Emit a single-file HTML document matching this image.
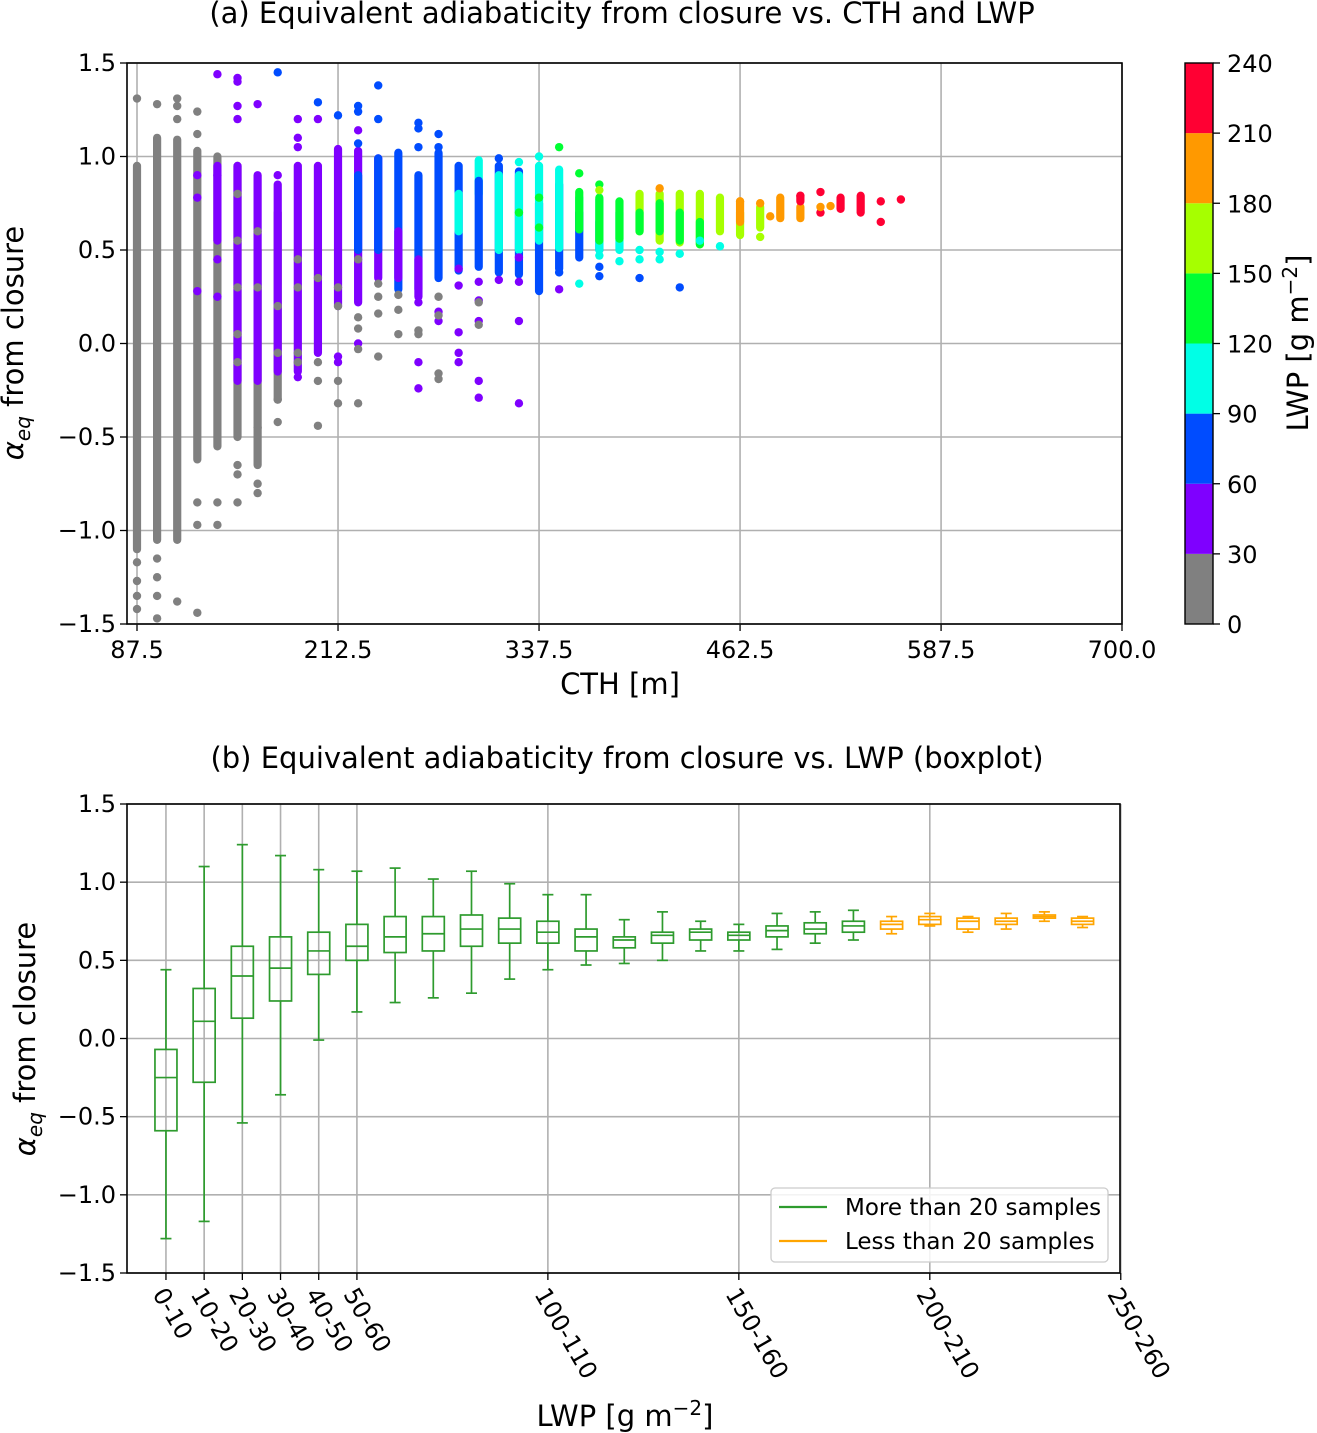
<!DOCTYPE html>
<html><head><meta charset="utf-8"><style>
body{margin:0;background:#fff;}
svg{display:block;font-family:"DejaVu Sans","Liberation Sans",sans-serif;}
</style></head><body>
<svg id="chart" width="1317" height="1433" viewBox="0 0 1317 1433" xmlns="http://www.w3.org/2000/svg">
<g id="panelA"></g>
<g id="cbar"></g>
<g id="panelB"></g>
</svg>
<script>
// ---------- Panel (a) data ----------
const cthTicks = [87.5, 212.5, 337.5, 462.5, 587.5, 700.0];
const cthTickLabels = ["87.5","212.5","337.5","462.5","587.5","700.0"];
const alphaTicks = [1.5, 1.0, 0.5, 0.0, -0.5, -1.0, -1.5];
const alphaTickLabels = ["1.5","1.0","0.5","0.0","\u22120.5","\u22121.0","\u22121.5"];
const lwpBounds = [0, 30, 60, 90, 120, 150, 180, 210, 240];
const lwpColors = ["#808080","#7f00ff","#004cff","#00ffe6","#00ff33","#a6ff00","#ff9900","#ff0033"];
// dense strips: [cth, lwp, alphaLow, alphaHigh]
const segments = [
 [87.5,15,-1.1,0.95],[100,15,-1.05,1.1],[112.5,15,-1.05,1.09],[125,15,-0.62,1.03],
 [137.5,15,-0.55,1.0],[137.5,45,0.55,0.95],[150,15,-0.5,0.95],[150,45,-0.2,0.95],
 [162.5,15,-0.65,0.5],[162.5,45,-0.2,0.9],[175,15,-0.3,0.7],[175,45,-0.15,0.85],
 [187.5,45,-0.15,0.95],[200,45,-0.05,0.95],[212.5,45,0.2,1.04],[225,45,0.22,1.03],
 [225,75,0.5,0.9],[237.5,45,0.35,0.99],[237.5,75,0.5,0.99],[250,75,0.29,1.02],[250,45,0.35,0.6],
 [262.5,75,0.29,0.9],[262.5,45,0.25,0.45],[275,75,0.35,1.02],[287.5,75,0.39,0.95],[287.5,105,0.6,0.8],
 [300,105,0.8,0.98],[300,75,0.41,0.87],[312.5,75,0.38,0.95],[312.5,105,0.5,0.9],
 [325,75,0.37,0.92],[325,105,0.5,0.9],[337.5,75,0.28,0.75],[337.5,105,0.55,0.95],
 [350,75,0.4,0.85],[350,105,0.51,0.93],[362.5,105,0.6,0.78],[362.5,75,0.46,0.7],[362.5,135,0.61,0.81],
 [375,75,0.5,0.65],[375,105,0.5,0.77],[375,135,0.55,0.78],[387.5,105,0.5,0.7],[387.5,135,0.56,0.76],
 [400,165,0.6,0.8],[400,135,0.6,0.7],[412.5,165,0.55,0.8],[412.5,135,0.6,0.75],[425,165,0.54,0.8],[425,135,0.55,0.7],
 [437.5,165,0.53,0.8],[437.5,135,0.53,0.65],[450,165,0.6,0.78],[462.5,165,0.58,0.7],[462.5,195,0.65,0.76],
 [475,165,0.62,0.73],[487.5,195,0.67,0.78],[500,195,0.67,0.73],[500,225,0.76,0.79],
 [525,225,0.72,0.78],[537.5,225,0.7,0.79]
];
// individual points: [cth, lwp, alpha]
const points = [
 [87.5,15,1.31],[87.5,15,-1.17],[87.5,15,-1.27],[87.5,15,-1.35],[87.5,15,-1.42],
 [100,15,1.28],[100,15,-1.15],[100,15,-1.25],[100,15,-1.35],[100,15,-1.47],
 [112.5,15,1.31],[112.5,15,1.27],[112.5,15,1.2],[112.5,15,-1.38],
 [125,15,1.24],[125,15,1.12],[125,45,0.9],[125,45,0.78],[125,45,0.28],[125,15,-0.85],[125,15,-0.97],[125,15,-1.44],
 [137.5,45,1.44],[137.5,45,0.9],[137.5,45,0.45],[137.5,45,0.25],[137.5,15,-0.85],[137.5,15,-0.97],
 [150,45,1.42],[150,45,1.4],[150,45,1.27],[150,45,1.2],[150,15,0.8],[150,15,0.55],[150,15,0.3],[150,15,0.05],[150,15,-0.1],[150,15,-0.65],[150,15,-0.7],[150,15,-0.85],
 [162.5,45,1.28],[162.5,15,0.6],[162.5,15,0.3],[162.5,15,-0.75],[162.5,15,-0.8],[162.5,15,-0.45],
 [175,75,1.45],[175,45,0.9],[175,15,0.2],[175,15,-0.05],[175,15,-0.3],[175,15,-0.42],
 [187.5,45,1.2],[187.5,45,1.1],[187.5,45,1.05],[187.5,15,0.45],[187.5,15,0.3],[187.5,15,-0.05],[187.5,15,-0.1],[187.5,45,-0.18],
 [200,75,1.29],[200,45,1.2],[200,15,0.35],[200,15,-0.1],[200,15,-0.2],[200,15,-0.44],
 [212.5,75,1.22],[212.5,15,0.2],[212.5,15,0.3],[212.5,45,-0.07],[212.5,45,-0.1],[212.5,15,-0.2],[212.5,15,-0.32],
 [225,75,1.27],[225,75,1.24],[225,45,1.14],[225,75,1.07],[225,15,0.45],[225,15,0.14],[225,15,0.08],[225,45,0.0],[225,15,-0.03],[225,15,-0.32],
 [237.5,75,1.38],[237.5,75,1.2],[237.5,15,0.32],[237.5,15,0.25],[237.5,15,0.16],[237.5,15,-0.07],
 [250,15,0.26],[250,15,0.18],[250,15,0.05],
 [262.5,75,1.18],[262.5,75,1.15],[262.5,75,1.05],[262.5,45,0.22],[262.5,15,0.07],[262.5,15,0.05],[262.5,45,-0.1],[262.5,45,-0.24],
 [275,75,1.12],[275,75,1.05],[275,15,0.25],[275,45,0.17],[275,45,0.12],[275,15,0.15],[275,15,-0.16],[275,15,-0.19],
 [287.5,45,0.4],[287.5,45,0.31],[287.5,45,0.06],[287.5,45,-0.05],[287.5,45,-0.1],
 [300,45,0.33],[300,45,0.23],[300,15,0.22],[300,45,0.12],[300,15,0.1],[300,45,-0.2],[300,45,-0.29],
 [312.5,75,0.99],[312.5,45,0.34],
 [325,105,0.97],[325,135,0.7],[325,45,0.46],[325,45,0.33],[325,45,0.12],[325,45,-0.32],
 [337.5,105,1.0],[337.5,135,0.78],[337.5,135,0.62],
 [350,135,1.05],[350,75,0.38],[350,45,0.29],
 [362.5,135,0.91],[362.5,105,0.32],
 [375,135,0.85],[375,165,0.82],[375,105,0.47],[375,75,0.41],[375,75,0.36],
 [387.5,105,0.44],
 [400,105,0.5],[400,105,0.45],[400,75,0.35],
 [412.5,195,0.83],[412.5,105,0.49],[412.5,105,0.45],
 [425,105,0.48],[425,75,0.3],
 [437.5,105,0.55],
 [450,105,0.52],
 [462.5,195,0.76],
 [475,195,0.75],[475,165,0.57],
 [481.25,195,0.68],
 [500,225,0.79],
 [512.5,225,0.81],[512.5,225,0.7],[512.5,195,0.73],
 [518.75,195,0.735],
 [550,225,0.76],[550,225,0.65],
 [562.5,225,0.77]
];

// ---------- Panel (b) data ----------
const binLabels = ["0-10","10-20","20-30","30-40","40-50","50-60","60-70","70-80","80-90","90-100","100-110","110-120","120-130","130-140","140-150","150-160","160-170","170-180","180-190","190-200","200-210","210-220","220-230","230-240","240-250","250-260"];
const shownBinLabels = ["0-10","10-20","20-30","30-40","40-50","50-60","100-110","150-160","200-210","250-260"];
const boxWhiskHi = [0.44,1.10,1.24,1.17,1.08,1.07,1.09,1.02,1.07,0.99,0.92,0.92,0.76,0.81,0.75,0.73,0.80,0.81,0.82,0.78,0.80,0.78,0.80,0.81,0.78];
const boxQ3 = [-0.07,0.32,0.59,0.65,0.68,0.73,0.78,0.78,0.79,0.77,0.75,0.70,0.65,0.68,0.70,0.68,0.72,0.74,0.75,0.75,0.78,0.77,0.77,0.79,0.77];
const boxMedian = [-0.25,0.11,0.40,0.45,0.56,0.59,0.65,0.67,0.70,0.70,0.68,0.65,0.63,0.66,0.68,0.66,0.69,0.70,0.72,0.73,0.76,0.75,0.75,0.78,0.75];
const boxQ1 = [-0.59,-0.28,0.13,0.24,0.41,0.50,0.55,0.56,0.59,0.61,0.61,0.56,0.58,0.61,0.63,0.63,0.65,0.67,0.68,0.70,0.73,0.70,0.73,0.77,0.73];
const boxWhiskLo = [-1.28,-1.17,-0.54,-0.36,-0.01,0.17,0.23,0.26,0.29,0.38,0.44,0.47,0.48,0.50,0.56,0.56,0.57,0.61,0.63,0.67,0.72,0.68,0.70,0.75,0.71];
const boxSampleCount = [99,99,99,99,99,99,99,99,99,99,99,99,99,99,99,99,99,99,25,15,12,8,6,4,3];
const bAlphaTicks = [1.5,1.0,0.5,0.0,-0.5,-1.0,-1.5];

const NS="http://www.w3.org/2000/svg";
function mk(parent, tag, attrs, text){
  const e=document.createElementNS(NS,tag);
  for(const k in attrs) e.setAttribute(k,attrs[k]);
  if(text!==undefined) e.textContent=text;
  parent.appendChild(e); return e;
}
function lwpColor(v){ for(let i=0;i<lwpColors.length;i++){ if(v<lwpBounds[i+1]) return lwpColors[i]; } return lwpColors[lwpColors.length-1]; }

// ---------- Panel (a) ----------
const panelA=document.getElementById('panelA');
const A={l:127,r:1122,t:63,b:624,x0:81.28,x1:700,y0:-1.5,y1:1.5};
const ax=v=>A.l+(v-A.x0)/(A.x1-A.x0)*(A.r-A.l);
const ay=v=>A.b-(v-A.y0)/(A.y1-A.y0)*(A.b-A.t);
let t=mk(panelA,'text',{x:622,y:23,'font-size':29,'text-anchor':'middle'},'(a) Equivalent adiabaticity from closure vs. CTH and LWP');
 
cthTicks.forEach((v,i)=>{
  let g=mk(panelA,'line',{x1:ax(v),x2:ax(v),y1:A.t,y2:A.b,stroke:'#b0b0b0','stroke-width':1.6});
   
  mk(panelA,'line',{x1:ax(v),x2:ax(v),y1:A.b,y2:A.b+7,stroke:'#000','stroke-width':1.3});
  let l=mk(panelA,'text',{x:ax(v),y:A.b+34,'font-size':24,'text-anchor':'middle'},cthTickLabels[i]);
   
});
alphaTicks.forEach((v,i)=>{
  let g=mk(panelA,'line',{x1:A.l,x2:A.r,y1:ay(v),y2:ay(v),stroke:'#b0b0b0','stroke-width':1.6});
   
  mk(panelA,'line',{x1:A.l-7,x2:A.l,y1:ay(v),y2:ay(v),stroke:'#000','stroke-width':1.3});
  let l=mk(panelA,'text',{x:A.l-11,y:ay(v)+8,'font-size':24,'text-anchor':'end'},alphaTickLabels[i]);
   
});
segments.forEach(s=>{
  let e=mk(panelA,'line',{x1:ax(s[0]),x2:ax(s[0]),y1:ay(s[3]),y2:ay(s[2]),stroke:lwpColor(s[1]),'stroke-width':8.2,'stroke-linecap':'round'});
   
});
points.forEach(p=>{
  let e=mk(panelA,'circle',{cx:ax(p[0]),cy:ay(p[2]),r:4.2,fill:lwpColor(p[1])});
   
});
let fr=mk(panelA,'rect',{x:A.l,y:A.t,width:A.r-A.l,height:A.b-A.t,fill:'none',stroke:'#000','stroke-width':1.6});
 
t=mk(panelA,'text',{x:620,y:694,'font-size':29,'text-anchor':'middle'},'CTH [m]');
 
t=mk(panelA,'text',{transform:'translate(23,343) rotate(-90)','font-size':29,'text-anchor':'middle'});
 
t.innerHTML='<tspan font-style="italic">α</tspan><tspan font-style="italic" font-size="20" dy="7">eq</tspan><tspan dy="-7"> from closure</tspan>';

// ---------- Colorbar ----------
const cb=document.getElementById('cbar');
const C={l:1185,r:1213,t:63,b:624};
const cy=v=>C.b-(v-lwpBounds[0])/(lwpBounds[lwpBounds.length-1]-lwpBounds[0])*(C.b-C.t);
lwpColors.forEach((c,i)=>{
  let r=mk(cb,'rect',{x:C.l,y:cy(lwpBounds[i+1]),width:C.r-C.l,height:cy(lwpBounds[i])-cy(lwpBounds[i+1]),fill:c});
   
});
mk(cb,'rect',{x:C.l,y:C.t,width:C.r-C.l,height:C.b-C.t,fill:'none',stroke:'#000','stroke-width':1.4});
lwpBounds.forEach(v=>{
  mk(cb,'line',{x1:C.r,x2:C.r+7,y1:cy(v),y2:cy(v),stroke:'#000','stroke-width':1.3});
  let l=mk(cb,'text',{x:C.r+14,y:cy(v)+9,'font-size':24},String(v));
   
});
t=mk(cb,'text',{transform:'translate(1308,343) rotate(-90)','font-size':29,'text-anchor':'middle'});
 
t.innerHTML='LWP [g m<tspan dy="-11" font-size="20">\u22122</tspan><tspan dy="11">]</tspan>';

// ---------- Panel (b) ----------
const bot=document.getElementById('panelB');
const B={l:127,r:1120,t:804,b:1273,x0:-1.02,x1:24.98,y0:-1.5,y1:1.5};
const bx=i=>B.l+(i-B.x0)/(B.x1-B.x0)*(B.r-B.l);
const by=v=>B.b-(v-B.y0)/(B.y1-B.y0)*(B.b-B.t);
t=mk(bot,'text',{x:627,y:768,'font-size':29,'text-anchor':'middle'},'(b) Equivalent adiabaticity from closure vs. LWP (boxplot)');
 
bAlphaTicks.forEach((v,i)=>{
  let g=mk(bot,'line',{x1:B.l,x2:B.r,y1:by(v),y2:by(v),stroke:'#b0b0b0','stroke-width':1.6});
   
  mk(bot,'line',{x1:B.l-7,x2:B.l,y1:by(v),y2:by(v),stroke:'#000','stroke-width':1.3});
  let l=mk(bot,'text',{x:B.l-11,y:by(v)+8,'font-size':24,'text-anchor':'end'},alphaTickLabels[i]);
   
});
shownBinLabels.forEach(lbl=>{
  const i=binLabels.indexOf(lbl); const x=bx(i);
  let g=mk(bot,'line',{x1:x,x2:x,y1:B.t,y2:B.b,stroke:'#b0b0b0','stroke-width':1.6});
   
  mk(bot,'line',{x1:x,x2:x,y1:B.b,y2:B.b+7,stroke:'#000','stroke-width':1.3});
  let l=mk(bot,'text',{transform:`translate(${x-14},${B.b+21}) rotate(60)`,'font-size':24},lbl);
   
});
boxQ3.forEach((q3,i)=>{
  const col=boxSampleCount[i]>20?'#2e9b2e':'#ffa500';
  const x=bx(i), w=11, cap=5.5;
  const g=mk(bot,'g',{stroke:col,'stroke-width':1.7,fill:'none'});
   
  mk(g,'line',{x1:x,x2:x,y1:by(boxWhiskHi[i]),y2:by(q3)});
  mk(g,'line',{x1:x,x2:x,y1:by(boxQ1[i]),y2:by(boxWhiskLo[i])});
  mk(g,'line',{x1:x-cap,x2:x+cap,y1:by(boxWhiskHi[i]),y2:by(boxWhiskHi[i])});
  mk(g,'line',{x1:x-cap,x2:x+cap,y1:by(boxWhiskLo[i]),y2:by(boxWhiskLo[i])});
  mk(g,'rect',{x:x-w,y:by(q3),width:2*w,height:by(boxQ1[i])-by(q3)});
  mk(g,'line',{x1:x-w,x2:x+w,y1:by(boxMedian[i]),y2:by(boxMedian[i])});
});
fr=mk(bot,'rect',{x:B.l,y:B.t,width:B.r-B.l,height:B.b-B.t,fill:'none',stroke:'#000','stroke-width':1.6});
 
// legend
const lg=mk(bot,'g',{});
 
mk(lg,'rect',{x:771,y:1188,width:337,height:74,rx:4,fill:'#fff','fill-opacity':0.85,stroke:'#ccc','stroke-width':1.3});
mk(lg,'line',{x1:779,x2:827,y1:1207,y2:1207,stroke:'#2e9b2e','stroke-width':2.2});
let le=mk(lg,'text',{x:845,y:1215,'font-size':23},'More than 20 samples');
 
mk(lg,'line',{x1:779,x2:827,y1:1241,y2:1241,stroke:'#ffa500','stroke-width':2.2});
le=mk(lg,'text',{x:845,y:1249,'font-size':23},'Less than 20 samples');
 
t=mk(bot,'text',{x:625,y:1426,'font-size':29,'text-anchor':'middle'});
 
t.innerHTML='LWP [g m<tspan dy="-11" font-size="20">\u22122</tspan><tspan dy="11">]</tspan>';
t=mk(bot,'text',{transform:'translate(35,1039) rotate(-90)','font-size':29,'text-anchor':'middle'});
 
t.innerHTML='<tspan font-style="italic">α</tspan><tspan font-style="italic" font-size="20" dy="7">eq</tspan><tspan dy="-7"> from closure</tspan>';
</script>
</body></html>
